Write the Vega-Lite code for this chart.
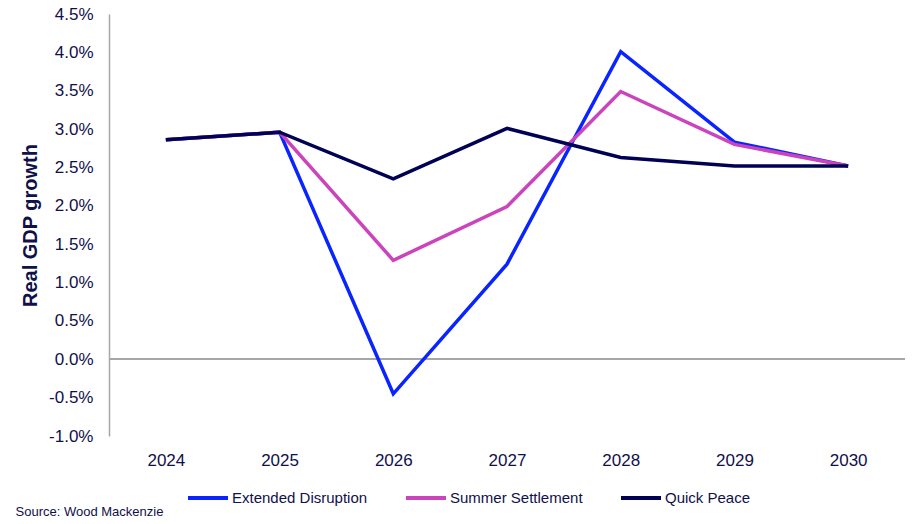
{
  "$schema": "https://vega.github.io/schema/vega-lite/v6.json",
  "autosize": {"type": "none"},
  "width": 796,
  "height": 422,
  "padding": {"left": 109, "top": 14, "right": 16, "bottom": 88},
  "background": "white",
  "config": {
    "view": {"stroke": null},
    "font": "Liberation Sans",
    "axisY": {
      "labelOverlap": false,
      "grid": false,
      "ticks": false,
      "domainColor": "#a6a6a6",
      "domainWidth": 1.5,
      "labelFontSize": 17,
      "labelColor": "#10104a",
      "labelPadding": 16,
      "titleFontSize": 20,
      "titleFontWeight": "bold",
      "titleColor": "#10104a",
      "titlePadding": 8
    }
  },
  "data": {
    "values": [
      {"year": "2024", "scenario": "Extended Disruption", "growth": 2.86},
      {"year": "2025", "scenario": "Extended Disruption", "growth": 2.96},
      {"year": "2026", "scenario": "Extended Disruption", "growth": -0.45},
      {"year": "2027", "scenario": "Extended Disruption", "growth": 1.24},
      {"year": "2028", "scenario": "Extended Disruption", "growth": 4.01},
      {"year": "2029", "scenario": "Extended Disruption", "growth": 2.83},
      {"year": "2030", "scenario": "Extended Disruption", "growth": 2.52},
      {"year": "2024", "scenario": "Summer Settlement", "growth": 2.86},
      {"year": "2025", "scenario": "Summer Settlement", "growth": 2.96},
      {"year": "2026", "scenario": "Summer Settlement", "growth": 1.29},
      {"year": "2027", "scenario": "Summer Settlement", "growth": 1.99},
      {"year": "2028", "scenario": "Summer Settlement", "growth": 3.49},
      {"year": "2029", "scenario": "Summer Settlement", "growth": 2.80},
      {"year": "2030", "scenario": "Summer Settlement", "growth": 2.52},
      {"year": "2024", "scenario": "Quick Peace", "growth": 2.86},
      {"year": "2025", "scenario": "Quick Peace", "growth": 2.96},
      {"year": "2026", "scenario": "Quick Peace", "growth": 2.35},
      {"year": "2027", "scenario": "Quick Peace", "growth": 3.01},
      {"year": "2028", "scenario": "Quick Peace", "growth": 2.63},
      {"year": "2029", "scenario": "Quick Peace", "growth": 2.52},
      {"year": "2030", "scenario": "Quick Peace", "growth": 2.52}
    ]
  },
  "layer": [
    {
      "mark": {"type": "rule", "color": "#a6a6a6", "strokeWidth": 1.5},
      "encoding": {
        "y": {
          "datum": 0,
          "type": "quantitative",
          "scale": {"domain": [-1, 4.5], "nice": false, "zero": false},
          "axis": {
            "title": "Real GDP growth",
            "values": [-1, -0.5, 0, 0.5, 1, 1.5, 2, 2.5, 3, 3.5, 4, 4.5],
            "labelExpr": "(datum.value < 0 ? '-' : '') + format(abs(datum.value), '.1f') + '%'"
          }
        }
      }
    },
    {
      "mark": {"type": "line", "strokeWidth": 3.5},
      "encoding": {
        "x": {
          "field": "year",
          "type": "ordinal",
          "axis": {
            "title": "Source: Wood Mackenzie",
            "titleX": -94,
            "titleY": 75,
            "titleAlign": "left",
            "titleBaseline": "middle",
            "titleFontSize": 13,
            "titleFontWeight": "normal",
            "titleColor": "#10104a",
            "labelAngle": 0,
            "domain": false,
            "ticks": false,
            "labelFontSize": 17,
            "labelColor": "#10104a",
            "labelPadding": 16
          }
        },
        "y": {
          "field": "growth",
          "type": "quantitative",
          "scale": {"domain": [-1, 4.5], "nice": false, "zero": false},
          "axis": {
            "title": "Real GDP growth",
            "values": [-1, -0.5, 0, 0.5, 1, 1.5, 2, 2.5, 3, 3.5, 4, 4.5],
            "labelExpr": "(datum.value < 0 ? '-' : '') + format(abs(datum.value), '.1f') + '%'"
          }
        },
        "color": {
          "field": "scenario",
          "type": "nominal",
          "sort": ["Extended Disruption", "Summer Settlement", "Quick Peace"],
          "scale": {
            "domain": ["Extended Disruption", "Summer Settlement", "Quick Peace"],
            "range": ["#0a24ff", "#cc44bb", "#000055"]
          },
          "legend": {
            "orient": "none",
            "legendX": 77,
            "legendY": 462,
            "direction": "horizontal",
            "title": null,
            "padding": 0,
            "symbolType": "stroke",
            "symbolSize": 1600,
            "symbolStrokeWidth": 4,
            "labelFontSize": 15,
            "labelColor": "#10104a",
            "labelOffset": 2,
            "columnPadding": 30
          }
        }
      }
    }
  ]
}
